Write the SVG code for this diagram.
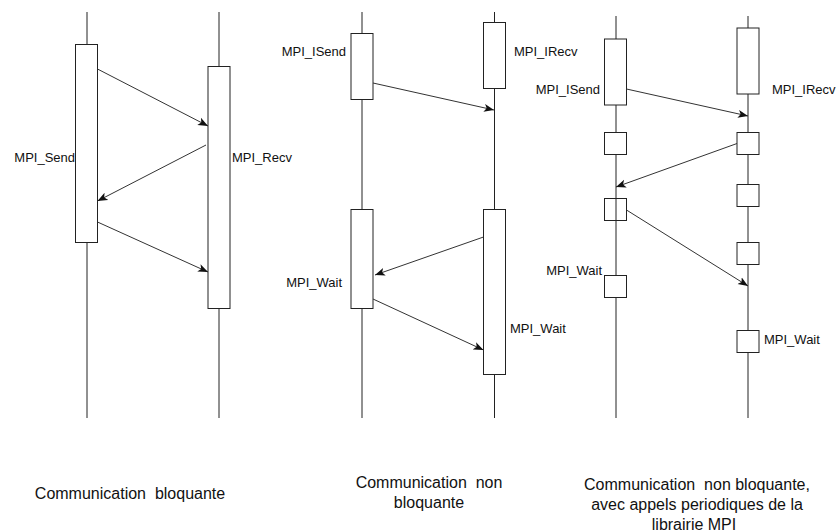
<svg xmlns="http://www.w3.org/2000/svg" width="837" height="532" viewBox="0 0 837 532">
<style>
.life{stroke:#222;stroke-width:1;fill:none}
.box{fill:#fff;stroke:#222;stroke-width:1}
.hbox{fill:none;stroke:#222;stroke-width:1}
.msg{stroke:#333;stroke-width:1;fill:none;marker-end:url(#arr)}
.lbl{font-family:"Liberation Sans",Arial,sans-serif;font-size:13px;fill:#111}
.cap{font-family:"Liberation Sans",Arial,sans-serif;font-size:16px;fill:#111;text-anchor:middle;white-space:pre}
</style>
<defs>
<marker id="arr" markerUnits="userSpaceOnUse" markerWidth="10" markerHeight="10" viewBox="0 0 10 10" refX="10" refY="5" orient="auto">
<path d="M0,1 L10,5 L0,9 L2.5,5 Z" fill="#111"/>
</marker>
</defs>

<g id="panel1">
<g id="p1-left"><line class="life" x1="87" y1="12" x2="87" y2="418"/><rect class="box" x="75.5" y="44.5" width="22" height="198"/><text class="lbl" x="75" y="162" text-anchor="end">MPI_Send</text></g>
<g id="p1-right"><line class="life" x1="219" y1="12" x2="219" y2="418"/><rect class="box" x="208" y="66.5" width="22" height="242"/><text class="lbl" x="232" y="162">MPI_Recv</text></g>
</g>

<g id="panel2">
<g id="p2-left"><line class="life" x1="362" y1="12" x2="362" y2="418"/><rect class="box" x="351" y="33.5" width="22" height="66"/><rect class="box" x="351" y="209.5" width="22" height="99"/><text class="lbl" x="346" y="56" text-anchor="end">MPI_ISend</text><text class="lbl" x="342" y="287" text-anchor="end">MPI_Wait</text></g>
<g id="p2-right"><line class="life" x1="494.5" y1="12" x2="494.5" y2="418"/><rect class="box" x="483.5" y="22.5" width="22" height="66"/><rect class="box" x="483.5" y="209.5" width="22" height="165"/><text class="lbl" x="514" y="56">MPI_IRecv</text><text class="lbl" x="510" y="333">MPI_Wait</text></g>
</g>

<g id="panel3">
<g id="p3-left"><line class="life" x1="616" y1="16" x2="616" y2="418"/><rect class="box" x="604.5" y="39" width="22" height="66"/><rect class="box" x="604.5" y="132.5" width="22" height="22"/><rect class="hbox" x="604.5" y="198.5" width="22" height="22"/><rect class="box" x="604.5" y="275.5" width="22" height="22"/><text class="lbl" x="600" y="94" text-anchor="end">MPI_ISend</text><text class="lbl" x="602" y="275" text-anchor="end">MPI_Wait</text></g>
<g id="p3-right"><line class="life" x1="748" y1="16" x2="748" y2="418"/><rect class="box" x="737" y="28" width="22" height="66"/><rect class="box" x="737" y="132.5" width="22" height="22"/><rect class="box" x="737" y="184.5" width="22" height="22"/><rect class="box" x="737" y="242.5" width="22" height="22"/><rect class="box" x="737" y="330.5" width="22" height="22"/><text class="lbl" x="772" y="94">MPI_IRecv</text><text class="lbl" x="764" y="344">MPI_Wait</text></g>
</g>

<g id="connectors">
<line class="msg" x1="97.5" y1="69" x2="208" y2="126"/>
<line class="msg" x1="206" y1="145" x2="97.5" y2="201"/>
<line class="msg" x1="97.5" y1="222" x2="208" y2="272"/>
<line class="msg" x1="373" y1="83" x2="494" y2="110"/>
<line class="msg" x1="483.5" y1="237" x2="375" y2="275"/>
<line class="msg" x1="373" y1="299" x2="483.5" y2="350"/>
<line class="msg" x1="626.5" y1="89" x2="748" y2="116"/>
<line class="msg" x1="737" y1="143.5" x2="616" y2="187"/>
<line class="msg" x1="626.5" y1="210" x2="748" y2="286"/>
</g>

<g id="captions">
<text class="cap" x="130" y="499">Communication  bloquante</text>
<text class="cap" x="429" y="488">Communication  non</text>
<text class="cap" x="429" y="508">bloquante</text>
<text class="cap" x="697" y="490">Communication  non bloquante,</text>
<text class="cap" x="697" y="510">avec appels periodiques de la</text>
<text class="cap" x="694" y="530">librairie MPI</text>
</g>
</svg>
